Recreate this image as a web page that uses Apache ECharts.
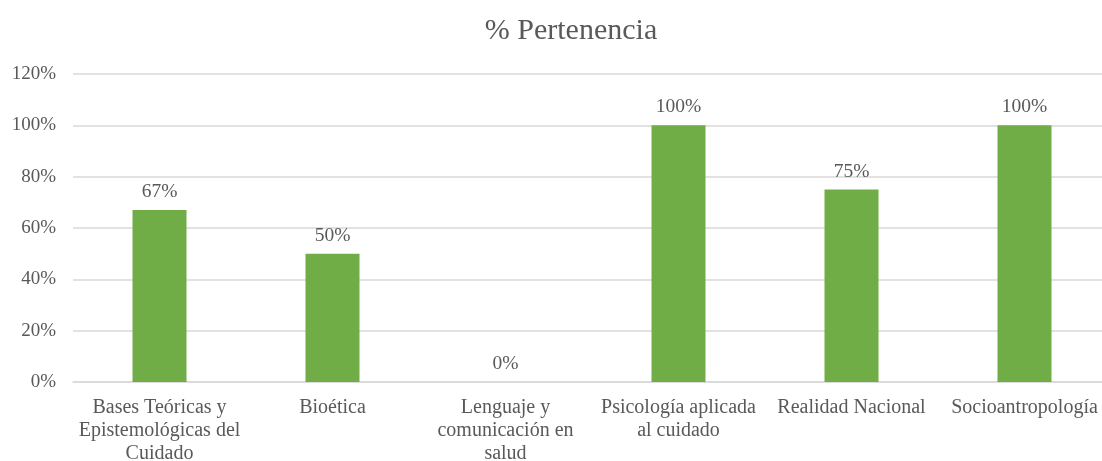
<!DOCTYPE html>
<html>
<head>
<meta charset="utf-8">
<script src="https://cdn.jsdelivr.net/npm/echarts@6/dist/echarts.min.js"></script>
<style>
  html, body { margin: 0; padding: 0; background: #fff; }
  #chart { width: 1102px; height: 461px; }
</style>
</head>
<body>
<div id="chart"></div>
<script>
// datos del grafico
var categorias = [
  'Bases Teóricas y\nEpistemológicas del\nCuidado',
  'Bioética',
  'Lenguaje y\ncomunicación en\nsalud',
  'Psicología aplicada\nal cuidado',
  'Realidad Nacional',
  'Socioantropología'
];
var pertenencia = [67, 50, 0, 100, 75, 100];
var ticksY = [0, 20, 40, 60, 80, 100, 120];

var fuente = '"Liberation Serif", "Times New Roman", serif';
var gris = '#595959';

var myChart = echarts.init(document.getElementById('chart'));
myChart.setOption({
  animation: false,
  title: {
    text: '% Pertenencia',
    left: 566,
    top: 11,
    textAlign: 'center',
    textStyle: { fontFamily: fuente, fontSize: 30, fontWeight: 'normal', color: gris }
  },
  grid: {
    left: 73,
    top: 74,
    width: 1038,
    height: 308,
    containLabel: false,
    outerBoundsMode: 'none'
  },
  xAxis: {
    type: 'category',
    data: categorias,
    axisTick: { show: false },
    axisLine: { lineStyle: { color: '#d9d9d9', width: 1.5 } },
    axisLabel: {
      interval: 0,
      margin: 14,
      fontFamily: fuente,
      fontSize: 20,
      lineHeight: 23,
      color: gris
    }
  },
  yAxis: {
    type: 'value',
    min: ticksY[0],
    max: ticksY[ticksY.length - 1],
    interval: 20,
    axisLine: { show: false },
    axisTick: { show: false },
    splitLine: { lineStyle: { color: '#d9d9d9', width: 1.5 } },
    axisLabel: {
      margin: 17,
      fontFamily: fuente,
      fontSize: 19,
      color: gris,
      formatter: '{value}%'
    }
  },
  series: [{
    name: '% Pertenencia',
    type: 'bar',
    data: pertenencia,
    barWidth: 54,
    itemStyle: { color: '#70AD47' },
    label: {
      show: true,
      position: 'top',
      distance: 8,
      fontFamily: fuente,
      fontSize: 19.5,
      color: gris,
      formatter: '{c}%'
    }
  }]
});
</script>
</body>
</html>
